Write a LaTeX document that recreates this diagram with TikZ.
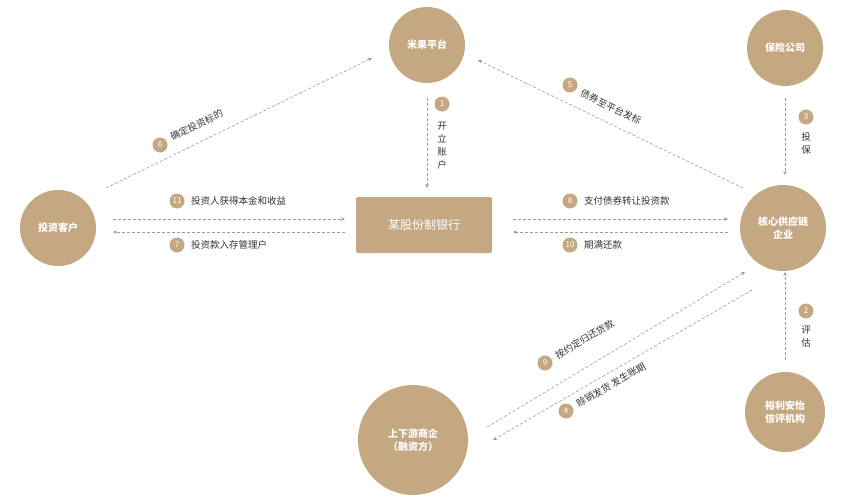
\documentclass[tikz,border=0pt]{standalone}
\usepackage{fontspec}
\setmainfont{Noto Sans CJK SC}
\usetikzlibrary{arrows.meta}
\definecolor{tan}{HTML}{C4A882}
\definecolor{ln}{HTML}{9A9A9A}
\definecolor{tx}{HTML}{333333}
\begin{document}
\begin{tikzpicture}[x=1pt,y=-1pt,
  ent/.style={circle,fill=tan,text=white,font=\fontsize{10}{13}\selectfont\bfseries,align=center,inner sep=0},
  con/.style={draw=ln,dashed,dash pattern=on 3pt off 2pt,line width=0.6pt,-{Stealth[length=4pt,width=3.5pt]}},
  num/.style={circle,fill=tan,text=white,minimum size=15pt,inner sep=0,font=\fontsize{8}{9}\selectfont},
  lab/.style={text=tx,inner sep=1pt,font=\fontsize{9.5}{11}\selectfont}]
\useasboundingbox (0,0) rectangle (850,500);
\node[ent,minimum size=76pt] (mg) at (427,45) {米果平台};
\node[ent,minimum size=76pt] (bx) at (785,48) {保险公司};
\node[ent,minimum size=76pt] (kh) at (58,228) {投资客户};
\node[ent,minimum size=86pt] (hx) at (783,228) {核心供应链\\企业};
\node[ent,minimum size=80pt] (yl) at (785,412) {裕利安怡\\信评机构};
\node[ent,minimum size=110pt] (sx) at (413,440) {上下游商企\\（融资方）};
\node[fill=tan,text=white,minimum width=136pt,minimum height=56pt,rounded corners=2pt,font=\fontsize{12}{14}\selectfont] (yh) at (424,225) {某股份制银行};
\coordinate (a6s) at (106,188); \coordinate (a6e) at (372,58);
\coordinate (a5s) at (743,188); \coordinate (a5e) at (478,60);
\draw[con] (a6s) -- (a6e);
\draw[con] (a5s) -- (a5e);
\node[num] (n6) at (160,145) {6};
\node[lab,rotate=26,anchor=west] (t6) at (170,138) {确定投资标的};
\node[num] (n5) at (570,85) {5};
\node[lab,rotate=-26,anchor=west] (t5) at (580,92) {债券至平台发标};
\coordinate (a1s) at (427,98); \coordinate (a1e) at (427,188);
\draw[con] (a1s) -- (a1e);
\node[num] (n1) at (442,104) {1};
\node[lab,align=center,inner sep=0,font=\fontsize{9.5}{13}\selectfont] (t1) at (442,146) {开\\立\\账\\户};
\coordinate (a3s) at (785,98); \coordinate (a3e) at (785,175);
\draw[con] (a3s) -- (a3e);
\node[num] (n3) at (806,117) {3};
\node[lab,align=center,inner sep=0,font=\fontsize{9.5}{13}\selectfont] (t3) at (806,143) {投\\保};
\coordinate (a2s) at (785,360); \coordinate (a2e) at (785,272);
\draw[con] (a2s) -- (a2e);
\node[num] (n2) at (806,311) {2};
\node[lab,align=center,inner sep=0,font=\fontsize{9.5}{13}\selectfont] (t2) at (806,337) {评\\估};
\coordinate (a11s) at (113,219); \coordinate (a11e) at (345,219);
\coordinate (a7s) at (345,232); \coordinate (a7e) at (113,232);
\draw[con] (a11s) -- (a11e);
\draw[con] (a7s) -- (a7e);
\node[num] (n11) at (177,201) {11};
\node[lab,anchor=west] (t11) at (190,201) {投资人获得本金和收益};
\node[num] (n7) at (177,245) {7};
\node[lab,anchor=west] (t7) at (190,245) {投资款入存管理户};
\coordinate (a8s) at (513,219); \coordinate (a8e) at (728,219);
\coordinate (a10s) at (728,232); \coordinate (a10e) at (513,232);
\draw[con] (a8s) -- (a8e);
\draw[con] (a10s) -- (a10e);
\node[num] (n8) at (570,201) {8};
\node[lab,anchor=west] (t8) at (583,201) {支付债券转让投资款};
\node[num] (n10) at (570,245) {10};
\node[lab,anchor=west] (t10) at (583,245) {期满还款};
\coordinate (a9s) at (487,427); \coordinate (a9e) at (745,272);
\coordinate (a4s) at (752,290); \coordinate (a4e) at (493,440);
\draw[con] (a9s) -- (a9e);
\draw[con] (a4s) -- (a4e);
\node[num] (n9) at (545,363) {9};
\node[lab,rotate=31,anchor=west] (t9) at (555,357) {按约定归还货款};
\node[num] (n4) at (566,411) {4};
\node[lab,rotate=30,anchor=west] (t4) at (576,405) {赊销发货 发生账期};
\end{tikzpicture}
\end{document}
